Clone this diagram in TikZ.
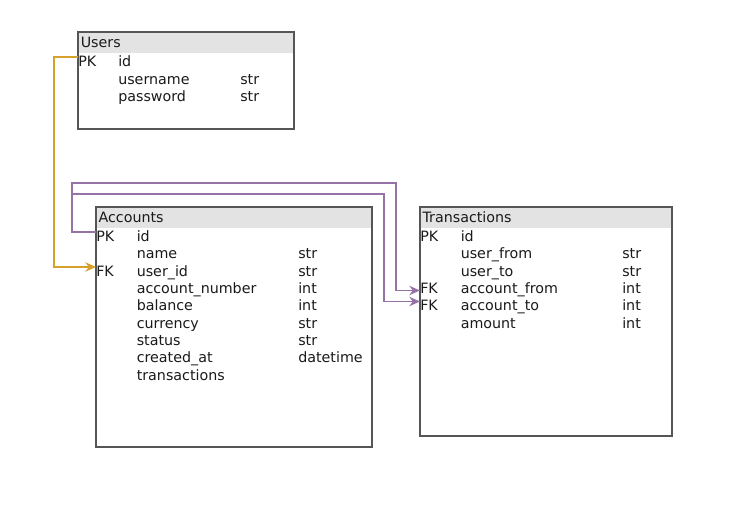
\documentclass[tikz,border=0pt]{standalone}
\usepackage{fontspec}
\setmainfont{DejaVu Sans}
\usetikzlibrary{arrows.meta}
\definecolor{hdr}{HTML}{E3E3E3}
\definecolor{bord}{HTML}{555555}
\definecolor{fkgold}{HTML}{D6A12B}
\definecolor{fkpurple}{HTML}{9673A6}
\definecolor{txt}{HTML}{1A1A1A}
\begin{document}
\begin{tikzpicture}[x=0.75pt,y=-0.75pt,
  lbl/.style={anchor=base west,inner sep=0pt,font=\fontsize{10.7pt}{12pt}\selectfont,text=txt},
  tbl/.style={draw=bord,line width=1.4pt,fill=white,anchor=north west,inner sep=0pt,outer sep=0pt,
    path picture={\fill[hdr] (path picture bounding box.north west) rectangle ([yshift=-15.75pt]path picture bounding box.north east);}},
  rel/.style={line width=1.4pt,-{Stealth[length=8pt,width=7pt]}},
]
\useasboundingbox (0,0) rectangle (746,516);
% tables
\node[tbl,minimum width=162pt,minimum height=72.75pt] (users) at (78,32) {};
\node[tbl,minimum width=207pt,minimum height=180pt] (accounts) at (96,207) {};
\node[tbl,minimum width=189pt,minimum height=171.75pt] (trans) at (420,207) {};
% Users
\node[lbl] (uh) at (80.5,47.7) {Users};
\node[lbl] (upk) at (78,67) {PK};
\node[lbl] (un1) at (118,67) {id};
\node[lbl] (un2) at (118,84.5) {username};
\node[lbl] (ut2) at (240,84.5) {str};
\node[lbl] (un3) at (118,102) {password};
\node[lbl] (ut3) at (240,102) {str};
% Accounts
\node[lbl] (ah) at (98.3,222.3) {Accounts};
\node[lbl] (apk) at (96,241.5) {PK};
\node[lbl] (an1) at (136.5,241.5) {id};
\node[lbl] (an2) at (136.5,258.85) {name};
\node[lbl] (at2) at (298,258.85) {str};
\node[lbl] (afk) at (96,276.2) {FK};
\node[lbl] (an3) at (136.5,276.2) {user\_id};
\node[lbl] (at3) at (298,276.2) {str};
\node[lbl] (an4) at (136.5,293.55) {account\_number};
\node[lbl] (at4) at (298,293.55) {int};
\node[lbl] (an5) at (136.5,310.9) {balance};
\node[lbl] (at5) at (298,310.9) {int};
\node[lbl] (an6) at (136.5,328.25) {currency};
\node[lbl] (at6) at (298,328.25) {str};
\node[lbl] (an7) at (136.5,345.6) {status};
\node[lbl] (at7) at (298,345.6) {str};
\node[lbl] (an8) at (136.5,362.95) {created\_at};
\node[lbl] (at8) at (298,362.95) {datetime};
\node[lbl] (an9) at (136.5,380.3) {transactions};
% Transactions
\node[lbl] (th) at (422.3,222.3) {Transactions};
\node[lbl] (tpk) at (420,241.5) {PK};
\node[lbl] (tn1) at (460.5,241.5) {id};
\node[lbl] (tn2) at (460.5,258.85) {user\_from};
\node[lbl] (tt2) at (622,258.85) {str};
\node[lbl] (tn3) at (460.5,276.2) {user\_to};
\node[lbl] (tt3) at (622,276.2) {str};
\node[lbl] (tfk1) at (420,293.55) {FK};
\node[lbl] (tn4) at (460.5,293.55) {account\_from};
\node[lbl] (tt4) at (622,293.55) {int};
\node[lbl] (tfk2) at (420,310.9) {FK};
\node[lbl] (tn5) at (460.5,310.9) {account\_to};
\node[lbl] (tt5) at (622,310.9) {int};
\node[lbl] (tn6) at (460.5,328.25) {amount};
\node[lbl] (tt6) at (622,328.25) {int};
% connection points
\coordinate (users-id) at (78,57);
\coordinate (acc-userid) at (96,267);
\coordinate (acc-id) at (96,232);
\coordinate (tr-afrom) at (420,290.5);
\coordinate (tr-ato) at (420,301.5);
% connectors
\draw[rel,draw=fkgold] (users-id) -- ++(-24,0) |- (acc-userid);
\draw[rel,draw=fkpurple] (acc-id) -- ++(-24,0) -- ++(0,-49) -- (396,183) |- (tr-afrom);
\draw[rel,draw=fkpurple] (acc-id) -- ++(-24,0) -- (72,194) -- (384,194) |- (tr-ato);
\end{tikzpicture}
\end{document}
